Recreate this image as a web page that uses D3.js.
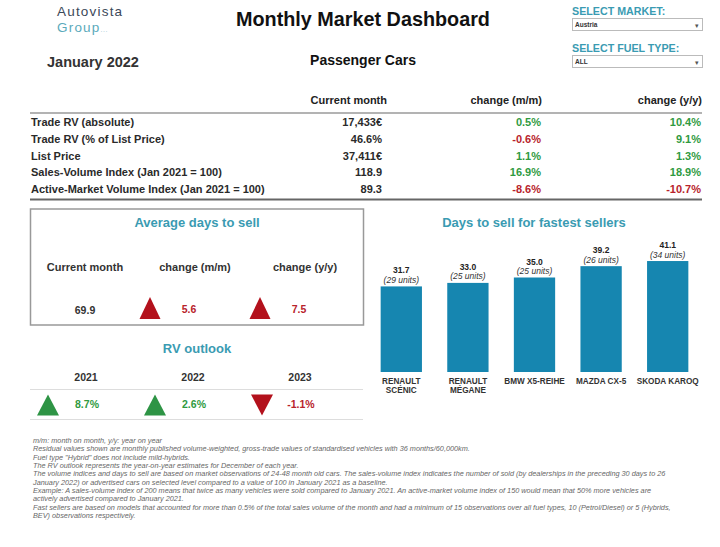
<!DOCTYPE html>
<html>
<head>
<meta charset="utf-8">
<script src="https://cdn.jsdelivr.net/npm/d3@7"></script>
<style>
body { margin: 0; background: #fff; }
svg { display: block; font-family: "Liberation Sans", Arial, sans-serif; }
</style>
</head>
<body>
<svg id="dash"></svg>
<script>
// ---------------- data ----------------
const monthLabel = "January 2022";
const segmentLabel = "Passenger Cars";
const marketOption = "Austria";
const fuelOption = "ALL";

const tableHeaders = ["Current month", "change (m/m)", "change (y/y)"];
const tableRows = [
	"Trade RV (absolute)",
	"Trade RV (% of List Price)",
	"List Price",
	"Sales-Volume Index (Jan 2021 = 100)",
	"Active-Market Volume Index (Jan 2021 = 100)",
];
const currentMonth = ["17,433€", "46.6%", "37,411€", "118.9", "89.3"];
const changeMM = [0.5, -0.6, 1.1, 16.9, -8.6];
const changeYY = [10.4, 9.1, 1.3, 18.9, -10.7];

const avgDaysHeaders = ["Current month", "change (m/m)", "change (y/y)"];
const avgDaysCurrent = 69.9;
const avgDaysChanges = [5.6, 7.5];

const rvYears = ["2021", "2022", "2023"];
const rvValues = [8.7, 2.6, -1.1];

const sellerModels = [["RENAULT", "SCÉNIC"], ["RENAULT", "MÉGANE"], ["BMW X5-REIHE"], ["MAZDA CX-5"], ["SKODA KAROQ"]];
const sellerDays = [31.7, 33.0, 35.0, 39.2, 41.1];
const sellerUnits = [29, 25, 25, 26, 34];

const footnotes = [
	"m/m: month on month, y/y: year on year",
	"Residual values shown are monthly published volume-weighted, gross-trade values of standardised vehicles with 36 months/60,000km.",
	"Fuel type \"Hybrid\" does not include mild-hybrids.",
	"The RV outlook represents the year-on-year estimates for December of each year.",
	"The volume indices and days to sell are based on market observations of 24-48 month old cars. The sales-volume index indicates the number of sold (by dealerships in the preceding 30 days to 26",
	"January 2022) or advertised cars on selected level compared to a value of 100 in January 2021 as a baseline.",
	"Example: A sales-volume index of 200 means that twice as many vehicles were sold compared to January 2021. An active-market volume index of 150 would mean that 50% more vehicles are",
	"actively advertised compared to January 2021.",
	"Fast sellers are based on models that accounted for more than 0.5% of the total sales volume of the month and had a minimum of 15 observations over all fuel types, 10 (Petrol/Diesel) or 5 (Hybrids,",
	"BEV) observations respectively.",
];

// ---------------- setup ----------------
const width = 720;
const height = 547;
const svg = d3.select("#dash").attr("width", width).attr("height", height);

const teal = "#3a9bb2";
const green = "#2f9a3f";
const red = "#b8232b";
const triRed = "#b3111c";
const triGreen = "#2e9445";
// plain hyphen for negatives, like the original
const fmt1 = (v) => v.toFixed(1);
const fmtPct = (v) => fmt1(v) + "%";

function triangle(g, cx, cy, w, h, up, color) {
	const p = d3.path();
	if (up) {
		p.moveTo(cx, cy - h / 2);
		p.lineTo(cx + w / 2, cy + h / 2);
		p.lineTo(cx - w / 2, cy + h / 2);
	} else {
		p.moveTo(cx - w / 2, cy - h / 2);
		p.lineTo(cx + w / 2, cy - h / 2);
		p.lineTo(cx, cy + h / 2);
	}
	p.closePath();
	g.append("path").attr("d", p.toString()).attr("fill", color);
}

// ---------------- header ----------------
const head = svg.append("g");
const logo = head.append("g").attr("font-size", 13.5).attr("letter-spacing", 1.2);
logo.append("text").attr("x", 57).attr("y", 16).attr("fill", "#3c4859").text("Autovista");
const grp = logo.append("text").attr("x", 57).attr("y", 31.5).attr("fill", "#5aaabb").text("Group");
grp.append("tspan").attr("font-size", 7).attr("letter-spacing", 0.5).attr("fill", "#9cc8d2").text("...");

head.append("text").attr("x", 363).attr("y", 26).attr("text-anchor", "middle")
	.attr("font-size", 19.8).attr("font-weight", "bold").attr("fill", "#111").text("Monthly Market Dashboard");
head.append("text").attr("x", 47).attr("y", 67).attr("font-size", 14.5).attr("font-weight", "bold")
	.attr("fill", "#333").text(monthLabel);
head.append("text").attr("x", 363).attr("y", 65).attr("text-anchor", "middle")
	.attr("font-size", 14).attr("font-weight", "bold").attr("fill", "#111").text(segmentLabel);

// selectors
[["SELECT MARKET:", marketOption, 15], ["SELECT FUEL TYPE:", fuelOption, 52]].forEach(([label, opt, y]) => {
	head.append("text").attr("x", 572).attr("y", y).attr("font-size", 10.7).attr("font-weight", "bold")
		.attr("fill", teal).text(label);
	head.append("rect").attr("x", 572.5).attr("y", y + 3.5).attr("width", 130).attr("height", 12)
		.attr("fill", "#fff").attr("stroke", "#bbb");
	head.append("text").attr("x", 575).attr("y", y + 12).attr("font-size", 6.5).attr("font-weight", "bold")
		.attr("fill", "#333").text(opt);
	head.append("text").attr("x", 697).attr("y", y + 12.5).attr("text-anchor", "middle")
		.attr("font-size", 7).attr("fill", "#555").text("▾");
});

// ---------------- KPI table ----------------
const table = svg.append("g").attr("font-size", 11).attr("font-weight", "bold");
const colRight = [382, 541, 701];
const rowY = d3.scalePoint().domain(d3.range(tableRows.length)).range([126, 193]);

tableHeaders.forEach((h, i) => {
	table.append("text").attr("x", colRight[i] + (i === 0 ? 5 : 1)).attr("y", 104).attr("text-anchor", "end")
		.attr("fill", "#222").text(h);
});
table.append("line").attr("x1", 30).attr("x2", 702).attr("y1", 113).attr("y2", 113)
	.attr("stroke", "#9a9a9a").attr("stroke-width", 1.5);
table.append("line").attr("x1", 30).attr("x2", 702).attr("y1", 199.5).attr("y2", 199.5)
	.attr("stroke", "#666").attr("stroke-width", 2);

tableRows.forEach((label, i) => {
	const y = rowY(i);
	table.append("text").attr("x", 31).attr("y", y).attr("fill", "#2a2a2a").text(label);
	table.append("text").attr("x", colRight[0]).attr("y", y).attr("text-anchor", "end")
		.attr("fill", "#2a2a2a").text(currentMonth[i]);
	table.append("text").attr("x", colRight[1]).attr("y", y).attr("text-anchor", "end")
		.attr("fill", changeMM[i] < 0 ? red : green).text(fmtPct(changeMM[i]));
	table.append("text").attr("x", colRight[2]).attr("y", y).attr("text-anchor", "end")
		.attr("fill", changeYY[i] < 0 ? red : green).text(fmtPct(changeYY[i]));
});

// ---------------- average days to sell ----------------
const avg = svg.append("g");
avg.append("rect").attr("x", 30.5).attr("y", 209).attr("width", 333).attr("height", 116)
	.attr("fill", "none").attr("stroke", "#999").attr("stroke-width", 1.5);
avg.append("text").attr("x", 197).attr("y", 227).attr("text-anchor", "middle")
	.attr("font-size", 13).attr("font-weight", "bold").attr("fill", teal).text("Average days to sell");

const avgX = d3.scalePoint().domain(avgDaysHeaders).range([85, 305]);
avgDaysHeaders.forEach((h) => {
	avg.append("text").attr("x", avgX(h)).attr("y", 271).attr("text-anchor", "middle")
		.attr("font-size", 11).attr("font-weight", "bold").attr("fill", "#333").text(h);
});
avg.append("text").attr("x", avgX(avgDaysHeaders[0])).attr("y", 314).attr("text-anchor", "middle")
	.attr("font-size", 10.5).attr("font-weight", "bold").attr("fill", "#333").text(fmt1(avgDaysCurrent));
avgDaysChanges.forEach((v, i) => {
	const cx = avgX(avgDaysHeaders[i + 1]);
	// more days to sell is bad -> red
	const col = v > 0 ? triRed : triGreen;
	triangle(avg, cx - 45, 308, 21, 22, v > 0, col);
	avg.append("text").attr("x", cx - 6).attr("y", 313).attr("text-anchor", "middle")
		.attr("font-size", 10.5).attr("font-weight", "bold").attr("fill", v > 0 ? red : green)
		.text(fmt1(v));
});

// ---------------- RV outlook ----------------
const rv = svg.append("g");
rv.append("text").attr("x", 197).attr("y", 353).attr("text-anchor", "middle")
	.attr("font-size", 13).attr("font-weight", "bold").attr("fill", teal).text("RV outlook");
const rvX = d3.scalePoint().domain(rvYears).range([86, 300]);
rv.append("line").attr("x1", 30).attr("x2", 363).attr("y1", 389.5).attr("y2", 389.5).attr("stroke", "#ddd");
rv.append("line").attr("x1", 30).attr("x2", 363).attr("y1", 419.5).attr("y2", 419.5).attr("stroke", "#ddd");
rvYears.forEach((yr, i) => {
	const cx = rvX(yr);
	const v = rvValues[i];
	rv.append("text").attr("x", cx).attr("y", 381).attr("text-anchor", "middle")
		.attr("font-size", 10.5).attr("font-weight", "bold").attr("fill", "#333").text(yr);
	triangle(rv, cx - 38, 405, 22, 21, v >= 0, v >= 0 ? triGreen : triRed);
	rv.append("text").attr("x", cx + 1).attr("y", 408).attr("text-anchor", "middle")
		.attr("font-size", 10.5).attr("font-weight", "bold").attr("fill", v >= 0 ? green : red).text(fmtPct(v));
});

// ---------------- fastest sellers bar chart ----------------
const bars = svg.append("g");
bars.append("text").attr("x", 534).attr("y", 227).attr("text-anchor", "middle")
	.attr("font-size", 13).attr("font-weight", "bold").attr("fill", teal).text("Days to sell for fastest sellers");

const idx = d3.range(sellerDays.length);
const x = d3.scaleBand().domain(idx).range([368, 701]).paddingInner(0.38).paddingOuter(0.19);
const y = d3.scaleLinear().domain([0, 45]).range([372, 250.5]);

bars.selectAll("rect.bar").data(idx).join("rect").attr("class", "bar")
	.attr("x", (i) => x(i)).attr("width", x.bandwidth())
	.attr("y", (i) => y(sellerDays[i])).attr("height", (i) => y(0) - y(sellerDays[i]))
	.attr("fill", "#1686b0");

bars.selectAll("text.val").data(idx).join("text").attr("class", "val")
	.attr("x", (i) => x(i) + x.bandwidth() / 2).attr("y", (i) => y(sellerDays[i]) - 13)
	.attr("text-anchor", "middle").attr("font-size", 8.5).attr("font-weight", "bold").attr("fill", "#222")
	.text((i) => fmt1(sellerDays[i]));
bars.selectAll("text.units").data(idx).join("text").attr("class", "units")
	.attr("x", (i) => x(i) + x.bandwidth() / 2).attr("y", (i) => y(sellerDays[i]) - 3.5)
	.attr("text-anchor", "middle").attr("font-size", 8.5).attr("font-style", "italic").attr("fill", "#333")
	.text((i) => "(" + sellerUnits[i] + " units)");

const cats = bars.selectAll("text.cat").data(idx).join("text").attr("class", "cat")
	.attr("x", (i) => x(i) + x.bandwidth() / 2).attr("y", y(0) + 12)
	.attr("text-anchor", "middle").attr("font-size", 8.2).attr("font-weight", "bold").attr("fill", "#333");
cats.selectAll("tspan").data((i) => sellerModels[i]).join("tspan")
	.attr("x", function () { return d3.select(this.parentNode).attr("x"); })
	.attr("dy", (d, j) => (j === 0 ? 0 : 8.5))
	.text((d) => d);

// ---------------- footnotes ----------------
const notes = svg.append("g").attr("font-size", 7.3).attr("font-style", "italic").attr("fill", "#666");
const noteY = d3.scalePoint().domain(d3.range(footnotes.length)).range([443, 518]);
footnotes.forEach((t, i) => {
	notes.append("text").attr("x", 33).attr("y", noteY(i)).text(t);
});
</script>
</body>
</html>
